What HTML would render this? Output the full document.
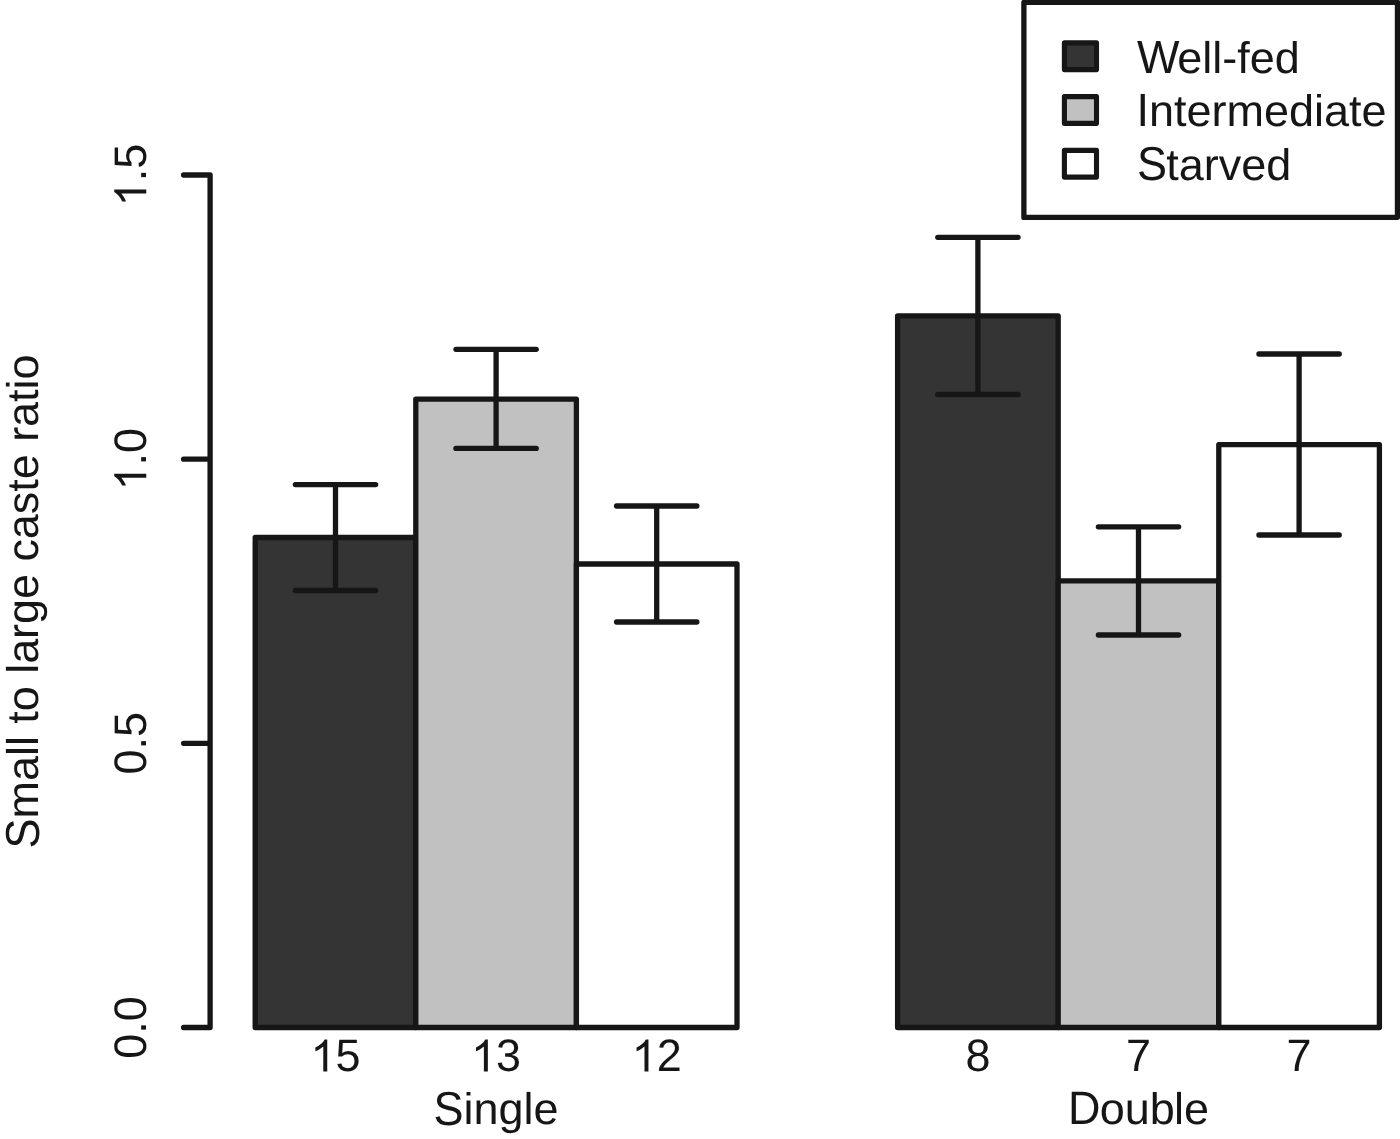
<!DOCTYPE html>
<html><head><meta charset="utf-8"><title>Caste ratio chart</title>
<style>html,body{margin:0;padding:0;background:#fff;}body{width:1400px;height:1139px;overflow:hidden;font-family:"Liberation Sans",sans-serif;}svg{display:block;will-change:transform;}</style>
</head><body>
<svg width="1400" height="1139" viewBox="0 0 1400 1139">
<rect width="1400" height="1139" fill="#fff"/>
<g stroke="#161616" stroke-width="5.3" stroke-linecap="round" stroke-linejoin="round" fill="none">
<rect x="255.20" y="537.5" width="160.60" height="490.00" fill="#343434"/>
<rect x="415.80" y="399.1" width="160.60" height="628.40" fill="#c1c1c1"/>
<rect x="576.40" y="564.0" width="160.60" height="463.50" fill="#ffffff"/>
<rect x="897.60" y="315.9" width="160.60" height="711.60" fill="#343434"/>
<rect x="1058.20" y="580.9" width="160.60" height="446.60" fill="#c1c1c1"/>
<rect x="1218.80" y="444.6" width="160.60" height="582.90" fill="#ffffff"/>
<path d="M335.50 484.6V590.5M295.35 484.6H375.65M295.35 590.5H375.65"/>
<path d="M496.10 349.3V448.4M455.95 349.3H536.25M455.95 448.4H536.25"/>
<path d="M656.70 506.0V622.0M616.55 506.0H696.85M616.55 622.0H696.85"/>
<path d="M977.90 237.3V394.5M937.75 237.3H1018.05M937.75 394.5H1018.05"/>
<path d="M1138.50 526.85V635.0M1098.35 526.85H1178.65M1098.35 635.0H1178.65"/>
<path d="M1299.10 354.0V535.0M1258.95 354.0H1339.25M1258.95 535.0H1339.25"/>
<path d="M210.1 175.0V1027.5M210.1 1027.50H183.6M210.1 743.33H183.6M210.1 459.17H183.6M210.1 175.00H183.6"/>
<rect x="1023.9" y="2.3" width="373.55" height="215.1" fill="#fff"/>
<rect x="1064.4" y="42.90" width="32.1" height="26.7" fill="#343434" stroke-width="5.1"/>
<rect x="1064.4" y="96.65" width="32.1" height="26.7" fill="#c1c1c1" stroke-width="5.1"/>
<rect x="1064.4" y="150.40" width="32.1" height="26.7" fill="#ffffff" stroke-width="5.1"/>
</g>
<g font-family="'Liberation Sans', sans-serif" font-size="45" fill="#161616" text-rendering="geometricPrecision">
<text transform="translate(1137.00 72.60) scale(1 1.03)">W</text><text transform="translate(1179.47 72.60) scale(1 0.985)" dx="-2.2">ell-fed</text>
<text transform="translate(1136.50 126.35) scale(1 1.035)">I</text><text transform="translate(1149.00 126.35) scale(1 0.985)">ntermediate</text>
<text transform="translate(1137.00 180.30) scale(1 1.06)">S</text><text transform="translate(1167.01 180.10) scale(1 0.985)" dx="-0.7">tarved</text>
<path transform="translate(310.48 1071.4) scale(0.021973 -0.021753)" d="M763 0H583V1147Q518 1085 412.5 1023T223 930V1104Q374 1175 487 1276T647 1472H763Z"/><text transform="translate(335.50 1071.4) scale(1 1.013)">5</text>
<path transform="translate(471.08 1071.4) scale(0.021973 -0.021753)" d="M763 0H583V1147Q518 1085 412.5 1023T223 930V1104Q374 1175 487 1276T647 1472H763Z"/><text transform="translate(496.10 1071.4) scale(1 1.013)">3</text>
<path transform="translate(631.68 1071.4) scale(0.021973 -0.021753)" d="M763 0H583V1147Q518 1085 412.5 1023T223 930V1104Q374 1175 487 1276T647 1472H763Z"/><text transform="translate(656.70 1071.4) scale(1 1.013)">2</text>
<text transform="translate(965.39 1071.4) scale(1 1.013)">8</text>
<text transform="translate(1125.99 1071.4) scale(1 1.013)">7</text>
<text transform="translate(1286.59 1071.4) scale(1 1.013)">7</text>
<text transform="translate(433.55 1124.50) scale(1 1.06)">S</text><text transform="translate(463.57 1124.15) scale(1 0.985)">ingle</text>
<text transform="translate(1068.10 1124.15) scale(1 1.04)">D</text><text transform="translate(1099.69 1124.15) scale(1 0.985)" dx="0 0 0 -0.9">ouble</text>
<g transform="translate(146.25 1027.50) rotate(-90)"><text transform="translate(-31.28 0) scale(1 1.013)">0.0</text></g>
<g transform="translate(146.25 743.33) rotate(-90)"><text transform="translate(-31.28 0) scale(1 1.013)">0.5</text></g>
<g transform="translate(146.25 459.17) rotate(-90)"><path transform="translate(-31.28 0) scale(0.021973 -0.021753)" d="M763 0H583V1147Q518 1085 412.5 1023T223 930V1104Q374 1175 487 1276T647 1472H763Z"/><text transform="translate(-6.26 0) scale(1 1.013)">.0</text></g>
<g transform="translate(146.25 175.00) rotate(-90)"><path transform="translate(-31.28 0) scale(0.021973 -0.021753)" d="M763 0H583V1147Q518 1085 412.5 1023T223 930V1104Q374 1175 487 1276T647 1472H763Z"/><text transform="translate(-6.26 0) scale(1 1.013)">.5</text></g>
<g transform="translate(38.7 600.8) rotate(-90)"><text transform="translate(-247.62 0.00) scale(1 1.06)">S</text><text transform="translate(-217.60 -0.60) scale(1 0.985)" letter-spacing="-0.056">mall to large caste ratio</text></g>
</g></svg>
</body></html>
